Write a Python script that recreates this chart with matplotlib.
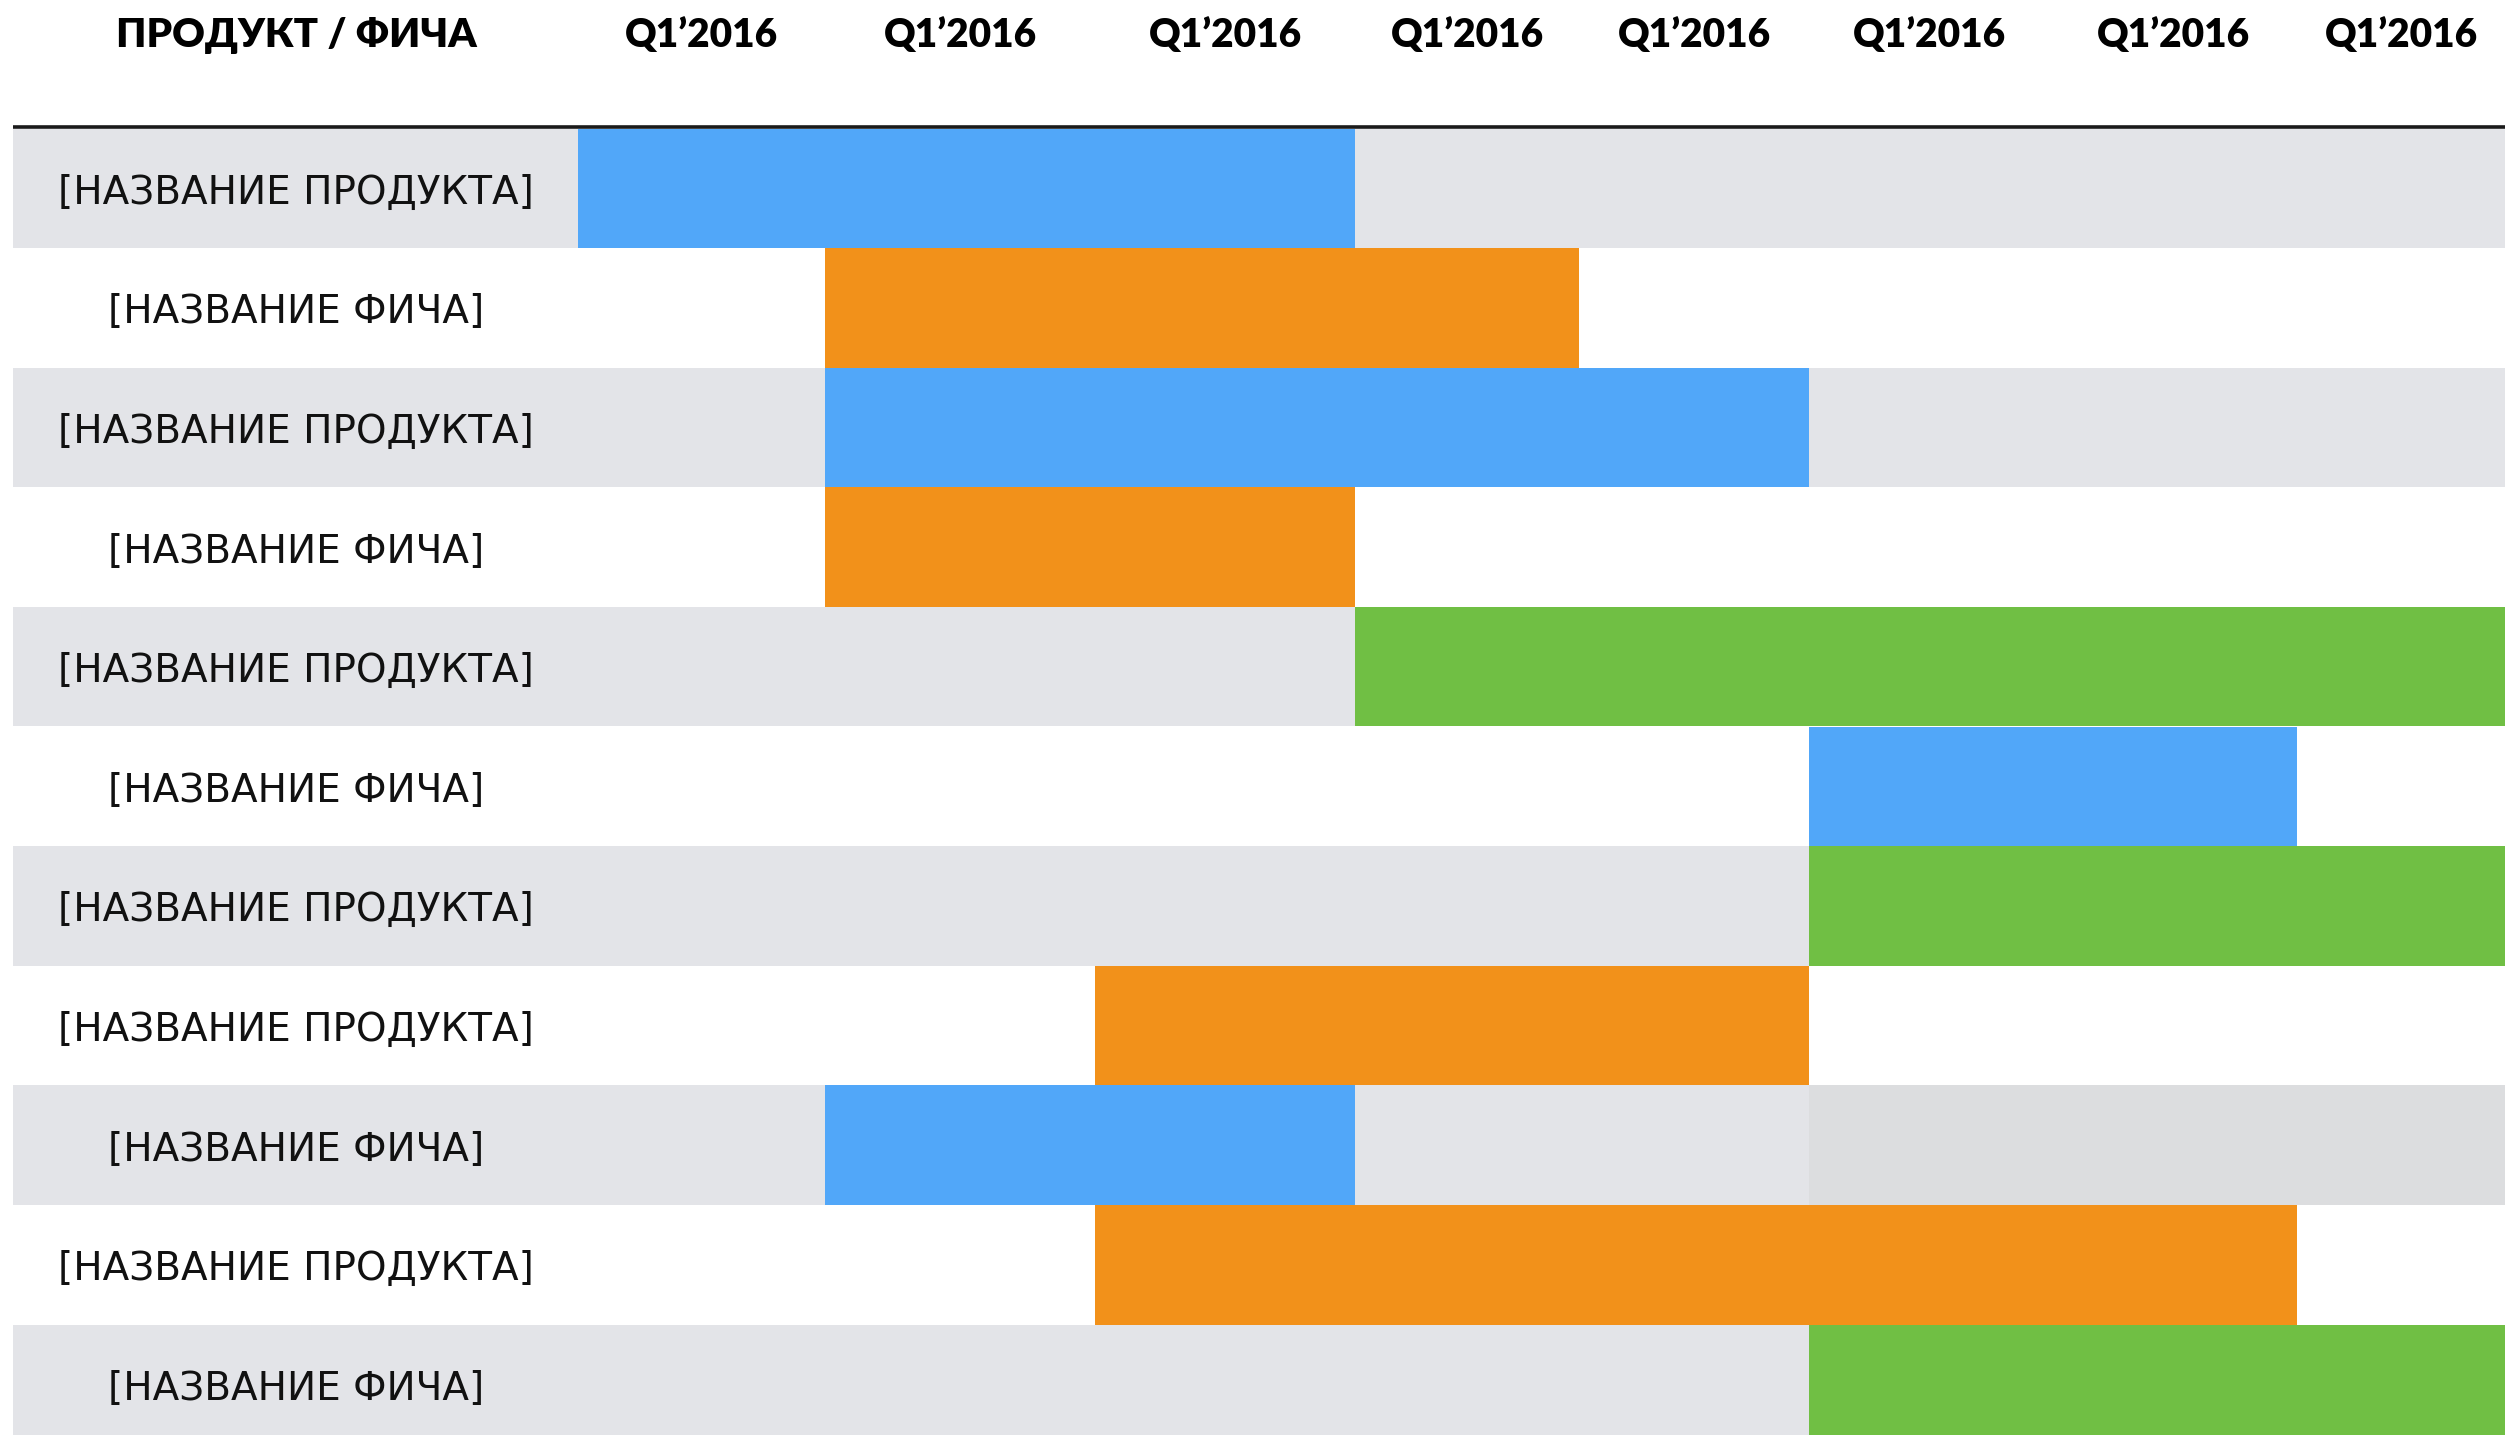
import matplotlib
matplotlib.use("Agg")
import matplotlib.pyplot as plt

# ---- data ----
row_labels = ["[НАЗВАНИЕ ПРОДУКТА]", "[НАЗВАНИЕ ФИЧА]", "[НАЗВАНИЕ ПРОДУКТА]", "[НАЗВАНИЕ ФИЧА]",
              "[НАЗВАНИЕ ПРОДУКТА]", "[НАЗВАНИЕ ФИЧА]", "[НАЗВАНИЕ ПРОДУКТА]", "[НАЗВАНИЕ ПРОДУКТА]",
              "[НАЗВАНИЕ ФИЧА]", "[НАЗВАНИЕ ПРОДУКТА]", "[НАЗВАНИЕ ФИЧА]"]
row_is_feature = [False, True, False, True, False, True, False, False, True, False, True]
header_first = "ПРОДУКТ / ФИЧА"
quarters = ["Q1’2016"] * 8
bar_start = [0, 1, 1, 1, 3, 5, 5, 2, 1, 2, 5]   # column index where bar starts
bar_end = [3, 4, 5, 3, 8, 7, 8, 5, 3, 7, 8]     # column index where bar ends
bar_kind = ["blue", "orange", "blue", "orange", "green", "blue", "green", "orange", "blue", "orange", "green"]
row_shaded = [True, False, True, False, True, False, True, False, True, False, True]

# ---- layout / style ----
W, H = 2517, 1435
col_edges = [578, 825, 1095, 1355, 1579, 1809, 2050, 2297, 2505]
table_left = 13
label_col_center = 296
row_top = 128.5
row_h = 119.6
colors = {"blue": "#51A7F9", "orange": "#F2911A", "green": "#70BF44"}
shade = "#E3E4E8"
shade_dark = "#DCDDDF"

fig = plt.figure(figsize=(W / 100, H / 100), dpi=100)
ax = fig.add_axes([0, 0, 1, 1])
ax.set_xlim(0, W)
ax.set_ylim(H, 0)
ax.axis("off")

n = len(row_labels)
centers = [row_top + row_h * (i + 0.5) for i in range(n)]

# row backgrounds
for i in range(n):
    if row_shaded[i]:
        ax.barh(centers[i], col_edges[-1] - table_left, left=table_left, height=row_h,
                color=shade, linewidth=0)
# slightly darker segment in row 9 (index 8)
ax.barh(centers[8], col_edges[8] - col_edges[5], left=col_edges[5], height=row_h,
        color=shade_dark, linewidth=0)

# bars
for i in range(n):
    x0 = col_edges[bar_start[i]]
    x1 = col_edges[bar_end[i]]
    ax.barh(centers[i], x1 - x0, left=x0, height=row_h, color=colors[bar_kind[i]], linewidth=0)

# header line
ax.plot([table_left, col_edges[-1]], [127, 127], color="#1a1a1a", lw=2.6, solid_capstyle="butt")

# header texts
head_font = ["Lato", "DejaVu Sans"]
ax.text(label_col_center, 47, header_first, ha="center", va="baseline", fontsize=29,
        fontweight="heavy", family=head_font, color="#000000")
for j, q in enumerate(quarters):
    cx = (col_edges[j] + col_edges[j + 1]) / 2
    ax.text(cx, 47, q, ha="center", va="baseline", fontsize=28, fontweight="heavy",
            family=head_font, color="#000000")

# row labels
for i in range(n):
    x = 108 if row_is_feature[i] else 58
    ax.text(x, centers[i] + 15.5, row_labels[i], ha="left", va="baseline", fontsize=28,
            family="DejaVu Sans", color="#111111")

fig.savefig("out.png", dpi=100)
